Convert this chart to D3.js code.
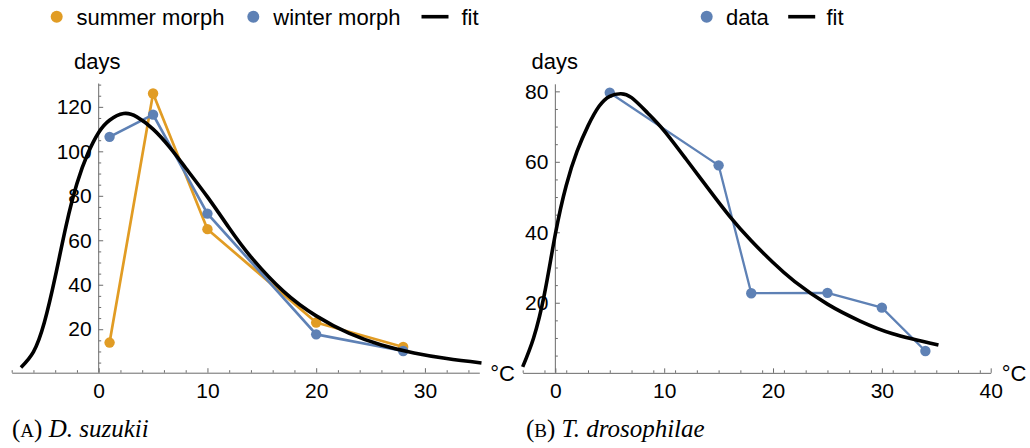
<!DOCTYPE html>
<html><head><meta charset="utf-8">
<script src="https://cdn.jsdelivr.net/npm/d3@7"></script>
<style>
body{margin:0;background:#fff;}
svg{display:block;}
</style></head>
<body><svg id="chart" width="1030" height="448" font-family="Liberation Sans, Arial, Helvetica, sans-serif"></svg>
<script>
// ---------- data ----------
const tempsA = [1, 5, 10, 20, 28];
const summerDays = [14, 126, 65, 23, 12];
const winterDays = [106.5, 116.5, 72, 17.7, 10.2];
const fitAx = [-7.15, -6, -5, -4, -3, -2, -1, 0, 1, 2.3, 3.5, 5, 6.5, 8, 10, 12, 14, 17, 20, 23, 26, 29, 32, 35.2];
const fitAy = [2.8, 9.8, 23, 43.5, 66.5, 85.5, 99, 108.5, 114, 117, 115.5, 110, 102, 92.5, 79.5, 65.5, 52.5, 37, 26, 18.2, 12.9, 9.3, 6.8, 4.8];

const tempsB = [5, 15, 18, 25, 30, 34];
const daysB = [79.6, 59, 22.7, 22.8, 18.6, 6.3];
const fitBx = [-3, -2, -1, 0, 1, 2, 3, 4, 5, 6, 7, 8.5, 10, 12, 14, 16, 18, 20, 22, 25, 28, 31, 35.2];
const fitBy = [1.8, 10, 22.5, 39.5, 53.3, 63, 70.2, 75.7, 78.6, 79.3, 78.2, 73.8, 68.8, 60.8, 52.6, 44.6, 37.6, 31.4, 26, 19.6, 14.8, 11.2, 8.0];

const xTicksA = [0, 10, 20, 30];
const yTicksA = [20, 40, 60, 80, 100, 120];
const xTicksB = [0, 10, 20, 30, 40];
const yTicksB = [20, 40, 60, 80];
const legendA = ["summer morph", "winter morph", "fit"];
const legendB = ["data", "fit"];

// ---------- style ----------
const ORANGE = "#E19C24", BLUE = "#5E81B5", AXIS = "#6b6b6b";
const svg = d3.select("#chart");

function panel(opt) {
  const g = svg.append("g");
  const x = d3.scaleLinear().domain(opt.xd).range(opt.xr);
  const y = d3.scaleLinear().domain(opt.yd).range(opt.yr);
  const y0 = y(opt.yAxisAt);

  const xMinor = d3.range(opt.xd[0], opt.xd[1] + 0.001, 2).filter(v => v % 10 !== 0);
  g.append("g").attr("transform", `translate(0,${y0})`)
    .call(d3.axisBottom(x).tickValues(xMinor).tickFormat("").tickSizeInner(-2.5).tickSizeOuter(0))
    .call(s => s.selectAll("line").attr("stroke", AXIS))
    .call(s => s.select(".domain").attr("stroke", AXIS));
  g.append("g").attr("transform", `translate(0,${y0})`)
    .call(d3.axisBottom(x).tickValues(opt.xTicks).tickFormat(d3.format("d")).tickSizeInner(-4.5).tickSizeOuter(0).tickPadding(10))
    .call(s => s.select(".domain").remove())
    .call(s => s.selectAll("line").attr("stroke", AXIS))
    .call(s => s.selectAll("text").attr("fill", "#000")
      .style("font-size", "21px").style("font-family", "Liberation Sans, Arial, sans-serif"));

  const x0 = x(0);
  const yMinor = d3.range(5, opt.yd[1] + 0.001, 5).filter(v => v % 20 !== 0);
  g.append("g").attr("transform", `translate(${x0},0)`)
    .call(d3.axisLeft(y).tickValues(yMinor).tickFormat("").tickSizeInner(-2.5).tickSizeOuter(0))
    .call(s => s.selectAll("line").attr("stroke", AXIS))
    .call(s => s.select(".domain").attr("stroke", AXIS)
      .attr("d", `M0,${y0}V${y(opt.yd[1])}`));
  g.append("g").attr("transform", `translate(${x0},0)`)
    .call(d3.axisLeft(y).tickValues(opt.yTicks).tickFormat(d3.format("d")).tickSizeInner(-4.5).tickSizeOuter(0).tickPadding(7))
    .call(s => s.select(".domain").remove())
    .call(s => s.selectAll("line").attr("stroke", AXIS))
    .call(s => s.selectAll("text").attr("fill", "#000")
      .style("font-size", "21px").style("font-family", "Liberation Sans, Arial, sans-serif"));

  g.append("text").attr("x", opt.daysX).attr("y", 69).style("font-size", "22px").text("days");
  g.append("text").attr("x", x(opt.xd[1]) + 11).attr("y", y0 + 8).style("font-size", "22px").text("°C");

  const line = d3.line().x(d => x(d[0])).y(d => y(d[1]));
  opt.series.forEach(s => {
    const pts = s.xs.map((v, i) => [v, s.ys[i]]);
    g.append("path").attr("d", line(pts)).attr("fill", "none")
      .attr("stroke", s.color).attr("stroke-width", s.w).attr("stroke-linejoin", "round");
    g.selectAll(null).data(pts).enter().append("circle")
      .attr("cx", d => x(d[0])).attr("cy", d => y(d[1])).attr("r", 5.2).attr("fill", s.color);
  });
  const fitPts = opt.fit.xs.map((v, i) => [v, opt.fit.ys[i]]);
  const fitLine = d3.line().x(d => x(d[0])).y(d => y(d[1])).curve(d3.curveNatural);
  g.append("path").attr("d", fitLine(fitPts))
    .attr("fill", "none").attr("stroke", "#000").attr("stroke-width", 3.6).attr("stroke-linejoin", "round");
  return g;
}

panel({
  xd: [-8, 35], xr: [11.7, 479.3], yd: [0, 130.5], yr: [373.7, 83.5], yAxisAt: 0.45,
  xTicks: xTicksA, yTicks: yTicksA, daysX: 74,
  series: [{xs: tempsA, ys: summerDays, color: ORANGE, w: 2.7},
           {xs: tempsA, ys: winterDays, color: BLUE, w: 2.7}],
  fit: {xs: fitAx, ys: fitAy}
});
panel({
  xd: [-3, 40], xr: [522.7, 990.7], yd: [0, 82], yr: [373.2, 84.3], yAxisAt: 0.1,
  xTicks: xTicksB, yTicks: yTicksB, daysX: 531.5,
  series: [{xs: tempsB, ys: daysB, color: BLUE, w: 2.3}],
  fit: {xs: fitBx, ys: fitBy}
});

// ---------- legends ----------
function legend(items, pos) {
  const g = svg.append("g");
  items.forEach((it, i) => {
    const p = pos[i];
    if (it.kind === "dot") g.append("circle").attr("cx", p.m).attr("cy", 16.7).attr("r", 6).attr("fill", it.color);
    else g.append("line").attr("x1", p.m - 13.5).attr("x2", p.m + 13.5).attr("y1", 16.7).attr("y2", 16.7)
      .attr("stroke", "#000").attr("stroke-width", 3.6);
    g.append("text").attr("x", p.t).attr("y", 24.8).style("font-size", "22px").text(it.label);
  });
}
legend([{kind: "dot", color: ORANGE, label: legendA[0]}, {kind: "dot", color: BLUE, label: legendA[1]}, {kind: "line", label: legendA[2]}],
       [{m: 56.7, t: 76.5}, {m: 253.3, t: 273.3}, {m: 435, t: 461.5}]);
legend([{kind: "dot", color: BLUE, label: legendB[0]}, {kind: "line", label: legendB[1]}],
       [{m: 706.7, t: 726}, {m: 801.7, t: 826.5}]);

// ---------- captions ----------
function caption(xp, letter, name) {
  const t = svg.append("text").attr("x", xp).attr("y", 437)
    .style("font-size", "25px").style("font-family", "Liberation Serif, Times New Roman, serif");
  t.append("tspan").text("(");
  t.append("tspan").style("font-size", "19px").text(letter);
  t.append("tspan").text(") ");
  t.append("tspan").style("font-style", "italic").text(name);
}
caption(12, "A", "D. suzukii");
caption(526, "B", "T. drosophilae");
</script></body></html>
